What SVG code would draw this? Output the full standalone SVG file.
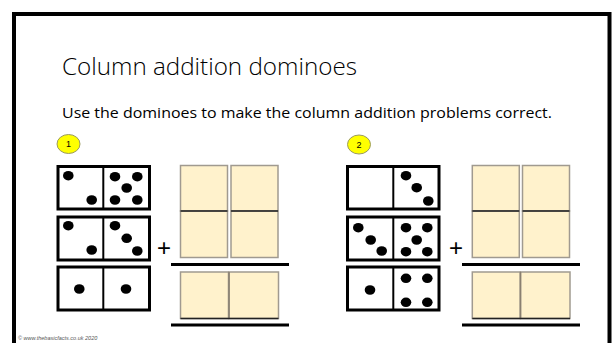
<svg xmlns="http://www.w3.org/2000/svg" width="612" height="343" viewBox="0 0 612 343">
<defs>
<style>
.frame{fill:none;stroke:#000;stroke-width:4}
.dom{fill:#fff;stroke:#000;stroke-width:3}
.div{stroke:#000;stroke-width:2}
.dot{fill:#000}
.box{fill:#FFF2CC;stroke:#A09A90;stroke-width:1.5}
.sep{stroke:#222;stroke-width:1.5}
.vsep{stroke:#8a8070;stroke-width:1.5}
.rule{stroke:#000;stroke-width:3}
.badge{fill:#FFFF00;stroke:#9a9a60;stroke-width:1}
.num{font-family:"Liberation Sans",Arial,sans-serif;font-size:9px;text-anchor:middle;fill:#000}
.plus{font-family:"Liberation Sans",Arial,sans-serif;font-size:24px;text-anchor:middle;fill:#000}
.title{font-family:"Open Sans","Liberation Sans",sans-serif;font-weight:300;font-size:24px;fill:#000}
.sub{font-family:"Open Sans","Liberation Sans",sans-serif;font-size:15px;fill:#000}
.foot{font-family:"Liberation Sans",Arial,sans-serif;font-style:italic;font-size:5.5px;fill:#555}
</style>
</defs>
<rect class="frame" x="14" y="14" width="595.5" height="345"/>
<text class="title" x="62" y="75" textLength="295" lengthAdjust="spacingAndGlyphs">Column addition dominoes</text>
<text class="sub" x="62" y="118" textLength="490" lengthAdjust="spacingAndGlyphs">Use the dominoes to make the column addition problems correct.</text>
<text class="foot" x="18" y="340">© www.thebasicfacts.co.uk 2020</text>

<g id="problem1">
<g id="badge1"><ellipse class="badge" cx="68.5" cy="144" rx="11.5" ry="9.5"/><text class="num" x="68.5" y="147.3">1</text></g>
<g id="p1-domino1">
<rect class="dom" x="58" y="166.5" width="91.5" height="42.5"/><line class="div" x1="103.3" y1="166.5" x2="103.3" y2="209"/>
<ellipse class="dot" cx="68.3" cy="175.7" rx="5.3" ry="4.8"/><ellipse class="dot" cx="91.7" cy="200" rx="5.3" ry="4.8"/>
<ellipse class="dot" cx="115" cy="176.7" rx="5.3" ry="4.8"/><ellipse class="dot" cx="137.3" cy="176.7" rx="5.3" ry="4.8"/><ellipse class="dot" cx="126.7" cy="188" rx="5.3" ry="4.8"/><ellipse class="dot" cx="115" cy="200" rx="5.3" ry="4.8"/><ellipse class="dot" cx="137.3" cy="200" rx="5.3" ry="4.8"/>
</g>
<g id="p1-domino2">
<rect class="dom" x="58" y="217" width="91.5" height="43"/><line class="div" x1="103.3" y1="217" x2="103.3" y2="260"/>
<ellipse class="dot" cx="68.3" cy="225.7" rx="5.3" ry="4.8"/><ellipse class="dot" cx="91.7" cy="250" rx="5.3" ry="4.8"/>
<ellipse class="dot" cx="115" cy="225.7" rx="5.3" ry="4.8"/><ellipse class="dot" cx="126.7" cy="238.3" rx="5.3" ry="4.8"/><ellipse class="dot" cx="137.3" cy="251" rx="5.3" ry="4.8"/>
</g>
<g id="p1-domino3">
<rect class="dom" x="58" y="267" width="91.5" height="43"/><line class="div" x1="103.3" y1="267" x2="103.3" y2="310"/>
<ellipse class="dot" cx="79.3" cy="289" rx="5.3" ry="4.8"/><ellipse class="dot" cx="126" cy="289" rx="5.3" ry="4.8"/>
</g>
<text class="plus" x="164" y="255.5">+</text>
<g id="p1-answer">
<rect class="box" x="180.5" y="165.5" width="47" height="45.5"/><rect class="box" x="231" y="165.5" width="47" height="45.5"/>
<rect class="box" x="180.5" y="211" width="47" height="46.5"/><rect class="box" x="231" y="211" width="47" height="46.5"/>
<line class="sep" x1="180.5" y1="211" x2="227.5" y2="211"/><line class="sep" x1="231" y1="211" x2="278" y2="211"/>
<line class="rule" x1="171" y1="264.5" x2="289" y2="264.5"/>
<rect class="box" x="180.5" y="272" width="48" height="46.5"/><rect class="box" x="229" y="272" width="49.5" height="46.5"/>
<line class="vsep" x1="229" y1="272" x2="229" y2="318.5"/>
<line class="sep" x1="180.5" y1="318.5" x2="278.5" y2="318.5"/>
<line class="rule" x1="171" y1="325" x2="289" y2="325"/>
</g>
</g>

<g id="problem2">
<g id="badge2"><ellipse class="badge" cx="359" cy="144.5" rx="11.5" ry="9.5"/><text class="num" x="359" y="147.8">2</text></g>
<g id="p2-domino1">
<rect class="dom" x="347.5" y="166.5" width="91.5" height="42.5"/><line class="div" x1="393.3" y1="166.5" x2="393.3" y2="209"/>
<ellipse class="dot" cx="406" cy="175.7" rx="5.3" ry="4.8"/><ellipse class="dot" cx="416.7" cy="187.7" rx="5.3" ry="4.8"/><ellipse class="dot" cx="428.3" cy="201" rx="5.3" ry="4.8"/>
</g>
<g id="p2-domino2">
<rect class="dom" x="347.5" y="217" width="91.5" height="43"/><line class="div" x1="393.3" y1="217" x2="393.3" y2="260"/>
<ellipse class="dot" cx="358.3" cy="227.7" rx="5.3" ry="4.8"/><ellipse class="dot" cx="370.7" cy="240" rx="5.3" ry="4.8"/><ellipse class="dot" cx="381.7" cy="251" rx="5.3" ry="4.8"/>
<ellipse class="dot" cx="406" cy="227.7" rx="5.3" ry="4.8"/><ellipse class="dot" cx="427.3" cy="227.7" rx="5.3" ry="4.8"/><ellipse class="dot" cx="416.7" cy="240" rx="5.3" ry="4.8"/><ellipse class="dot" cx="406" cy="251.7" rx="5.3" ry="4.8"/><ellipse class="dot" cx="427.3" cy="251.7" rx="5.3" ry="4.8"/>
</g>
<g id="p2-domino3">
<rect class="dom" x="347.5" y="267" width="91.5" height="43"/><line class="div" x1="393.3" y1="267" x2="393.3" y2="310"/>
<ellipse class="dot" cx="370" cy="290" rx="5.3" ry="4.8"/>
<ellipse class="dot" cx="406" cy="278.3" rx="5.3" ry="4.8"/><ellipse class="dot" cx="427.3" cy="278.3" rx="5.3" ry="4.8"/><ellipse class="dot" cx="406" cy="302.3" rx="5.3" ry="4.8"/><ellipse class="dot" cx="427.3" cy="302.3" rx="5.3" ry="4.8"/>
</g>
<text class="plus" x="456" y="255.5">+</text>
<g id="p2-answer">
<rect class="box" x="472.3" y="165.5" width="47" height="45.5"/><rect class="box" x="522.5" y="165.5" width="47" height="45.5"/>
<rect class="box" x="472.3" y="211" width="47" height="46.5"/><rect class="box" x="522.5" y="211" width="47" height="46.5"/>
<line class="sep" x1="472.3" y1="211" x2="519.3" y2="211"/><line class="sep" x1="522.5" y1="211" x2="569.5" y2="211"/>
<line class="rule" x1="462" y1="264.5" x2="580" y2="264.5"/>
<rect class="box" x="472.3" y="272" width="48" height="46.5"/><rect class="box" x="520.5" y="272" width="49.5" height="46.5"/>
<line class="vsep" x1="520.5" y1="272" x2="520.5" y2="318.5"/>
<line class="sep" x1="472.3" y1="318.5" x2="570" y2="318.5"/>
<line class="rule" x1="462" y1="325" x2="580" y2="325"/>
</g>
</g>
</svg>
